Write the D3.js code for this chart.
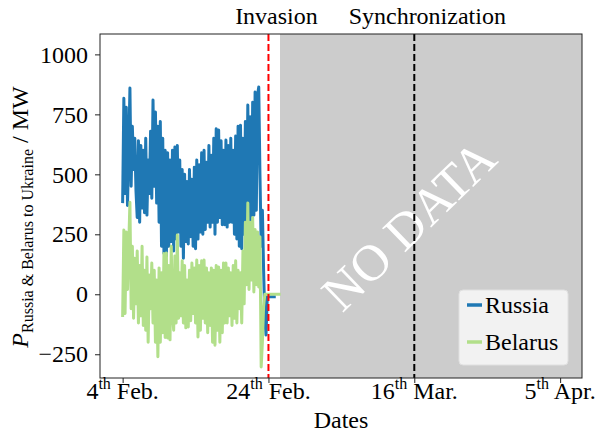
<!DOCTYPE html>
<html><head><meta charset="utf-8">
<script src="https://cdn.jsdelivr.net/npm/d3@7"></script>
<style>
html,body{margin:0;padding:0;background:#fff;}
svg text{font-family:"Liberation Serif","DejaVu Serif",serif;white-space:pre;}
</style></head>
<body><svg id="c" width="599" height="433"></svg>
<script>
// ---- data (4-hour steps starting 4 Feb 2022 00:00 UTC) ----
const seriesNames = ["Russia", "Belarus"];
const seriesColors = ["#1f78b4", "#b2df8a"];
const russia = [
 380,817,420,780,370,600,
 860,450,700,520,650,430,
 320,640,300,620,360,600,
 340,650,330,560,420,680,
 400,810,450,760,380,700,
 300,720,200,650,170,600,
 160,590,200,560,220,600,
 180,614,230,620,260,560,
 200,520,150,500,220,470,
 210,520,240,480,200,530,
 190,560,230,540,260,590,
 250,600,270,550,300,620,
 280,580,300,650,250,690,
 300,685,320,640,290,600,
 290,643,280,620,300,650,
 300,600,250,660,230,700,
 200,705,190,650,250,720,
 260,789,300,740,255,800,
 330,843,350,830,864,500,
 200,350,100,-100,-170,-10,
 -10,-10,-10,-10,-10,-10,
 -10
];
const belarus = [
 -95,268,-80,260,20,200,
 384,-60,200,-100,150,-40,
 180,-120,120,-90,200,-130,
 100,-150,155,-200,80,-60,
 130,-120,100,-200,60,-260,
 110,-200,90,-160,170,-180,
 172,-182,120,-190,200,-80,
 -150,160,-120,247,-100,90,
 -90,140,-120,120,-140,60,
 -136,100,-110,130,-80,110,
 -120,143,-178,120,-150,140,
 -100,143,-120,110,-160,90,
 -130,110,-200,100,-212,120,
 -150,114,-200,100,-160,130,
 -120,130,-120,110,-90,90,
 -130,120,-100,140,-120,100,
 -60,90,-120,180,-40,300,
 40,380,20,300,60,320,
 10,270,40,260,30,240,
 -303,-200,-50,0,0,0,
 0,0,0,0,0,0,
 0,0,0,0,0
];
const seriesStart = Date.UTC(2022,1,4,0,0);
const stepHours = 4;
const yTicks = [-250, 0, 250, 500, 750, 1000];
const xTickDates = [Date.UTC(2022,1,4), Date.UTC(2022,1,24), Date.UTC(2022,2,16), Date.UTC(2022,3,5)];
const xTickLabels = [["4","th"," Feb."],["24","th"," Feb."],["16","th"," Mar."],["5","th"," Apr."]];
const invasionDate = Date.UTC(2022,1,24,0,0);
const syncDate = Date.UTC(2022,2,16,0,0);
const noDataStart = Date.UTC(2022,1,25,14,0);
const xDomain = [Date.UTC(2022,0,31,21,30), Date.UTC(2022,3,8,0,0)];
const yDomain = [-349, 1085];

// ---- layout ----
const L = 100, R = 582, T = 34, B = 378;
const svg = d3.select("#c");
const x = d3.scaleUtc().domain(xDomain).range([L, R]);
const y = d3.scaleLinear().domain(yDomain).range([B, T]);
const FS = 24;

svg.append("defs").append("clipPath").attr("id","clip")
  .append("rect").attr("x",L).attr("y",T).attr("width",R-L).attr("height",B-T);

// gray no-data region
svg.append("rect").attr("x", x(noDataStart)).attr("y", T)
  .attr("width", R - x(noDataStart)).attr("height", B - T).attr("fill", "#cccccc");

// NO DATA text
svg.append("text").attr("transform", `translate(${x(syncDate)-6},${y(290)}) rotate(-44)`)
  .attr("text-anchor","middle").attr("dy","0.35em").attr("font-size",51).attr("fill","#fff")
  .text("NO DATA");

// lines
const toPts = arr => arr.map((v,i)=>({t: seriesStart + i*stepHours*3600*1000, v}));
const line = d3.line().x(d=>x(d.t)).y(d=>y(d.v)).curve(d3.curveLinear);
const g = svg.append("g").attr("clip-path","url(#clip)");
[russia, belarus].forEach((arr,k)=>{
  g.append("path").datum(toPts(arr)).attr("d", line).attr("fill","none")
    .attr("stroke", seriesColors[k]).attr("stroke-width",3)
    .attr("stroke-linejoin","round").attr("stroke-linecap","butt");
});

// vertical event lines
svg.append("line").attr("x1",x(invasionDate)).attr("x2",x(invasionDate)).attr("y1",T).attr("y2",B)
  .attr("stroke","#ff0000").attr("stroke-width",2).attr("stroke-dasharray","7,3");
svg.append("line").attr("x1",x(syncDate)).attr("x2",x(syncDate)).attr("y1",T).attr("y2",B)
  .attr("stroke","#000").attr("stroke-width",2).attr("stroke-dasharray","7,3");

// event labels
svg.append("text").attr("x", x(invasionDate)+8).attr("y",24).attr("text-anchor","middle")
  .attr("font-size",FS).text("Invasion");
svg.append("text").attr("x", x(syncDate)+13).attr("y",24).attr("text-anchor","middle")
  .attr("font-size",FS).text("Synchronization");

// frame
svg.append("rect").attr("x",L).attr("y",T).attr("width",R-L).attr("height",B-T)
  .attr("fill","none").attr("stroke","#222").attr("stroke-width",1);

// y axis
const ya = svg.append("g").attr("transform",`translate(${L},0)`)
  .call(d3.axisLeft(y).tickValues(yTicks).tickSize(5).tickPadding(7).tickFormat(d3.format("d")));
ya.select(".domain").remove();
ya.selectAll("text").attr("font-size",FS).attr("fill","#000")
  .attr("font-family","Liberation Serif").text(d=> d<0 ? "\u2212"+Math.abs(d) : d);
ya.selectAll("line").attr("stroke","#222");

// x axis
const xa = svg.append("g").attr("transform",`translate(0,${B})`)
  .call(d3.axisBottom(x).tickValues(xTickDates).tickSize(5).tickFormat(""));
xa.select(".domain").remove();
xa.selectAll("line").attr("stroke","#222");
xTickDates.forEach((d,i)=>{
  const t = svg.append("text").attr("x", x(d)).attr("y", 399).attr("text-anchor","middle")
    .attr("font-size",FS);
  const lb = xTickLabels[i];
  t.append("tspan").text(lb[0]);
  t.append("tspan").attr("font-size",16).attr("dy",-10).text(lb[1]);
  t.append("tspan").attr("dy",10).text(lb[2]);
});

// axis titles
svg.append("text").attr("x",(L+R)/2).attr("y",428).attr("text-anchor","middle")
  .attr("font-size",FS).text("Dates");
const yl = svg.append("text").attr("transform",`translate(28,${(T+B)/2+11}) rotate(-90)`)
  .attr("text-anchor","middle").attr("font-size",FS);
yl.append("tspan").attr("font-style","italic").text("P");
yl.append("tspan").attr("font-size",16).attr("dy",5).text("Russia & Belarus to Ukraine");
yl.append("tspan").attr("dy",-5).text(" / MW");

// legend
const lg = svg.append("g");
lg.append("rect").attr("x",459).attr("y",290).attr("width",109).attr("height",75).attr("rx",4)
  .attr("fill","#f2f2f2").attr("stroke","#e0e0e0").attr("stroke-width",1);
seriesNames.forEach((n,k)=>{
  const yy = 305 + k*37;
  lg.append("line").attr("x1",467).attr("x2",482).attr("y1",yy).attr("y2",yy)
    .attr("stroke",seriesColors[k]).attr("stroke-width",3.5);
  lg.append("text").attr("x",485).attr("y",yy).attr("dy","0.33em").attr("font-size",FS).text(n);
});
</script></body></html>
